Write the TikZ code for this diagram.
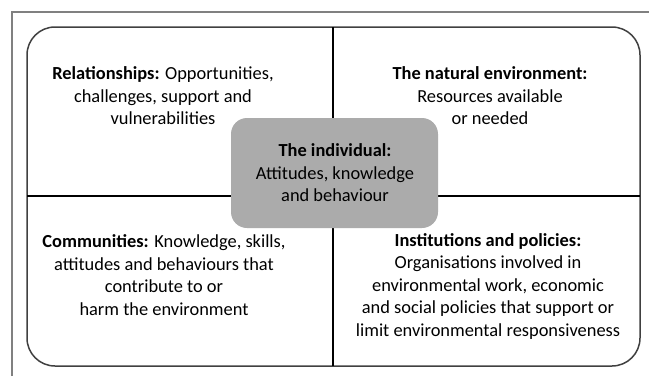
\documentclass[tikz,border=0pt]{standalone}
\usepackage{fontspec}
\setmainfont{Carlito}

\tikzset{
	quadtext/.style={align=center, inner sep=0pt, font=\fontsize{18.4}{22.5}\selectfont},
	divider/.style={line width=2pt, black},
}

\begin{document}
\begin{tikzpicture}[x=1pt, y=-1pt]
	\useasboundingbox (0,0) rectangle (649,376);

	\coordinate (TL) at (27, 27); % top left of the frame
	\coordinate (BR) at (640, 366); % bottom right of the frame
	\coordinate (TM) at (333, 27); % top middle
	\coordinate (BM) at (333, 366); % bottom middle
	\coordinate (LM) at (27, 196); % left middle
	\coordinate (RM) at (640, 196); % right middle

	% thin page frame
	\draw[gray, line width=1.2pt] (12,376) -- (12,12) -- (649,12);

	% rounded frame and the cross
	\draw[black!75, line width=1.5pt, rounded corners=28pt] (TL) rectangle (BR);
	\draw[divider] (TM) -- (BM);
	\draw[divider] (LM) -- (RM);

	% the individual in the middle
	\fill[black!33, rounded corners=16pt] (231,118) rectangle (438,228);
	\node[quadtext] (individual) at (335, 173) {\textbf{The individual:}\\Attitudes, knowledge\\and behaviour};

	\node[quadtext] (relations) at (163, 96) {\textbf{Relationships:} Opportunities,\\challenges, support and\\vulnerabilities};
	\node[quadtext] (nature) at (490, 96) {\textbf{The natural environment:}\\Resources available\\or needed};
	\node[quadtext] (communities) at (164, 275) {\textbf{Communities:} Knowledge, skills,\\attitudes and behaviours that\\contribute to or\hspace*{12pt}\\harm the environment};
	\node[quadtext] (institutions) at (488, 286.5) {\textbf{Institutions and policies:}\\Organisations involved in\\environmental work, economic\\and social policies that support or\\limit environmental responsiveness};
\end{tikzpicture}
\end{document}
